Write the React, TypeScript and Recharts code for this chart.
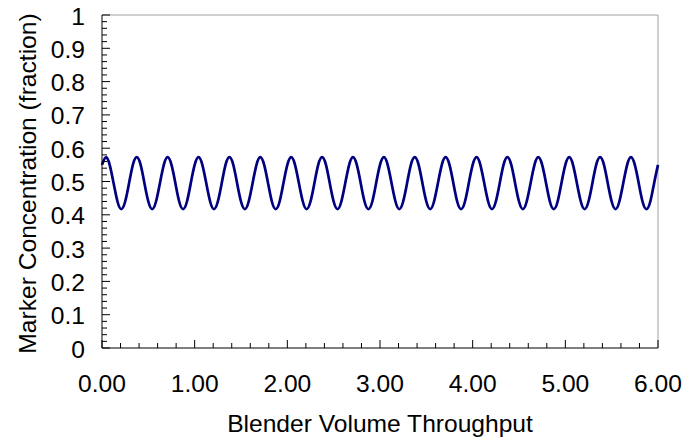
import React from 'react';
import { LineChart, Line, XAxis, YAxis, ReferenceLine } from 'recharts';

const throughput = [
  0, 0.042, 0.083, 0.125, 0.167, 0.208, 0.25, 0.292, 0.333, 0.375, 0.417, 0.458,
  0.5, 0.542, 0.583, 0.625, 0.667, 0.708, 0.75, 0.792, 0.833, 0.875, 0.917, 0.958,
  1, 1.042, 1.083, 1.125, 1.167, 1.208, 1.25, 1.292, 1.333, 1.375, 1.417, 1.458,
  1.5, 1.542, 1.583, 1.625, 1.667, 1.708, 1.75, 1.792, 1.833, 1.875, 1.917, 1.958,
  2, 2.042, 2.083, 2.125, 2.167, 2.208, 2.25, 2.292, 2.333, 2.375, 2.417, 2.458,
  2.5, 2.542, 2.583, 2.625, 2.667, 2.708, 2.75, 2.792, 2.833, 2.875, 2.917, 2.958,
  3, 3.042, 3.083, 3.125, 3.167, 3.208, 3.25, 3.292, 3.333, 3.375, 3.417, 3.458,
  3.5, 3.542, 3.583, 3.625, 3.667, 3.708, 3.75, 3.792, 3.833, 3.875, 3.917, 3.958,
  4, 4.042, 4.083, 4.125, 4.167, 4.208, 4.25, 4.292, 4.333, 4.375, 4.417, 4.458,
  4.5, 4.542, 4.583, 4.625, 4.667, 4.708, 4.75, 4.792, 4.833, 4.875, 4.917, 4.958,
  5, 5.042, 5.083, 5.125, 5.167, 5.208, 5.25, 5.292, 5.333, 5.375, 5.417, 5.458,
  5.5, 5.542, 5.583, 5.625, 5.667, 5.708, 5.75, 5.792, 5.833, 5.875, 5.917, 5.958,
  6,
];

const concentration = [
  0.55, 0.573, 0.55, 0.495, 0.44, 0.417, 0.44, 0.495, 0.55, 0.573, 0.55, 0.495,
  0.44, 0.417, 0.44, 0.495, 0.55, 0.573, 0.55, 0.495, 0.44, 0.417, 0.44, 0.495,
  0.55, 0.573, 0.55, 0.495, 0.44, 0.417, 0.44, 0.495, 0.55, 0.573, 0.55, 0.495,
  0.44, 0.417, 0.44, 0.495, 0.55, 0.573, 0.55, 0.495, 0.44, 0.417, 0.44, 0.495,
  0.55, 0.573, 0.55, 0.495, 0.44, 0.417, 0.44, 0.495, 0.55, 0.573, 0.55, 0.495,
  0.44, 0.417, 0.44, 0.495, 0.55, 0.573, 0.55, 0.495, 0.44, 0.417, 0.44, 0.495,
  0.55, 0.573, 0.55, 0.495, 0.44, 0.417, 0.44, 0.495, 0.55, 0.573, 0.55, 0.495,
  0.44, 0.417, 0.44, 0.495, 0.55, 0.573, 0.55, 0.495, 0.44, 0.417, 0.44, 0.495,
  0.55, 0.573, 0.55, 0.495, 0.44, 0.417, 0.44, 0.495, 0.55, 0.573, 0.55, 0.495,
  0.44, 0.417, 0.44, 0.495, 0.55, 0.573, 0.55, 0.495, 0.44, 0.417, 0.44, 0.495,
  0.55, 0.573, 0.55, 0.495, 0.44, 0.417, 0.44, 0.495, 0.55, 0.573, 0.55, 0.495,
  0.44, 0.417, 0.44, 0.495, 0.55, 0.573, 0.55, 0.495, 0.44, 0.417, 0.44, 0.495,
  0.55,
];

const xTicks = [
  0, 0.2, 0.4, 0.6, 0.8, 1, 1.2, 1.4, 1.6, 1.8, 2, 2.2, 2.4, 2.6, 2.8, 3,
  3.2, 3.4, 3.6, 3.8, 4, 4.2, 4.4, 4.6, 4.8, 5, 5.2, 5.4, 5.6, 5.8, 6,
];

const yTicks = [
  0, 0.02, 0.04, 0.06, 0.08, 0.1, 0.12, 0.14, 0.16, 0.18, 0.2, 0.22, 0.24, 0.26, 0.28,
  0.3, 0.32, 0.34, 0.36, 0.38, 0.4, 0.42, 0.44, 0.46, 0.48, 0.5, 0.52, 0.54, 0.56, 0.58,
  0.6, 0.62, 0.64, 0.66, 0.68, 0.7, 0.72, 0.74, 0.76, 0.78, 0.8, 0.82, 0.84, 0.86, 0.88,
  0.9, 0.92, 0.94, 0.96, 0.98, 1,
];

const xTitle = 'Blender Volume Throughput';
const yTitle = 'Marker Concentration (fraction)';

const data = throughput.map((x, i) => ({ x, c: concentration[i] }));

const FONT = 'Arial, "Liberation Sans", sans-serif';
const FS = 23;
const SX = 1.07;

const T = ({ x, y, anchor, rotate, children }: any) => (
  <text
    x={0}
    y={0}
    transform={`translate(${x} ${y})${rotate ? ` rotate(${rotate})` : ''} scale(${SX} 1)`}
    textAnchor={anchor}
    fontSize={FS}
    fontFamily={FONT}
    fill="#000"
  >
    {children}
  </text>
);

const XTick = (props: any) => {
  const { x, y, payload } = props;
  const v = payload.value as number;
  const major = Math.abs(v - Math.round(v)) < 1e-6;
  return (
    <g>
      <line x1={x} x2={x} y1={y} y2={y - (major ? 8 : 5)} stroke="#000" strokeWidth={1} />
      {major && (
        <T x={x} y={y + 44} anchor="middle">
          {v.toFixed(2)}
        </T>
      )}
    </g>
  );
};

const YTick = (props: any) => {
  const { x, y, payload } = props;
  const v = payload.value as number;
  const major = Math.abs(v * 10 - Math.round(v * 10)) < 1e-6;
  return (
    <g>
      <line x1={x} x2={x + (major ? 8 : 5)} y1={y} y2={y} stroke="#000" strokeWidth={1} />
      {major && (
        <T x={x - 17} y={y + 9.5} anchor="end">
          {String(Math.round(v * 10) / 10)}
        </T>
      )}
    </g>
  );
};

const XTitle = (props: any) => {
  const vb = props.viewBox || {};
  return (
    <T x={vb.x + vb.width / 2} y={vb.y + 84} anchor="middle">
      {xTitle}
    </T>
  );
};

const YTitle = (props: any) => {
  const vb = props.viewBox || {};
  const cx = vb.x + 36;
  const cy = vb.y + vb.height / 2 + 2;
  return (
    <T x={cx} y={cy} anchor="middle" rotate={-90}>
      {yTitle}
    </T>
  );
};

export default function App() {
  return (
    <div style={{ position: 'absolute', left: 0, top: 0, width: 685, height: 439 }}>
      <LineChart width={685} height={439} data={data} margin={{ top: 15, right: 27, left: 0, bottom: 0 }}>
        <XAxis
          dataKey="x"
          type="number"
          domain={[0, 6]}
          ticks={xTicks}
          interval={0}
          tickSize={0}
          tickMargin={0}
          tick={<XTick />}
          height={91}
          axisLine={{ stroke: '#000', strokeWidth: 1 }}
          tickLine={false}
          label={<XTitle />}
        />
        <YAxis
          type="number"
          domain={[0, 1]}
          ticks={yTicks}
          interval={0}
          tickSize={0}
          tickMargin={0}
          tick={<YTick />}
          width={102}
          axisLine={{ stroke: '#000', strokeWidth: 1 }}
          tickLine={false}
          label={<YTitle />}
        />
        <ReferenceLine y={1} stroke="#a0a0a0" strokeWidth={1} />
        <ReferenceLine x={6} stroke="#a0a0a0" strokeWidth={1} />
        <Line
          type="natural"
          dataKey="c"
          stroke="#000080"
          strokeWidth={2.7}
          dot={false}
          isAnimationActive={false}
        />
      </LineChart>
    </div>
  );
}
